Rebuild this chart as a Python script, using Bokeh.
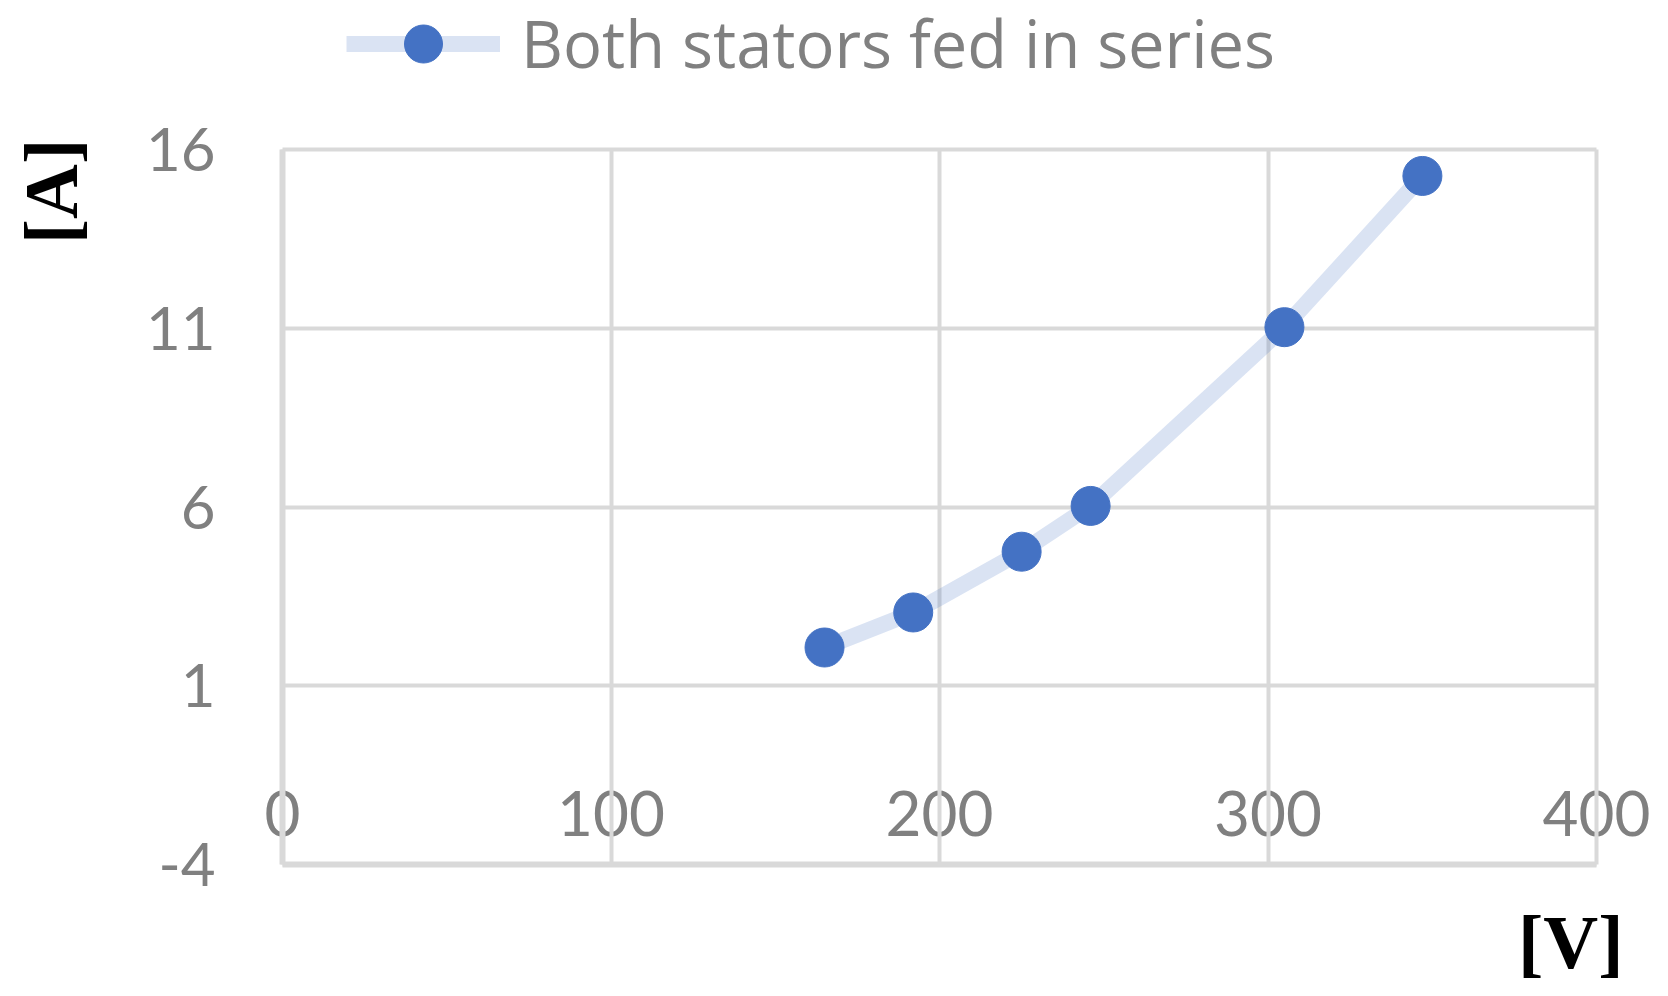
import math
from bokeh.plotting import figure
from bokeh.models import (ColumnDataSource, FixedTicker, Legend, LegendItem,
                          Label, LinearAxis, Range1d, Grid, PrintfTickFormatter)
from bokeh.embed import file_html
from bokeh.resources import INLINE

# ---- data ----
voltage = [165, 192, 225, 246, 305, 347]
current = [2.07, 3.05, 4.75, 6.03, 11.03, 15.26]
series_name = "Both stators fed in series"
x_ticks = [0, 100, 200, 300, 400]
y_ticks = [-4, 1, 6, 11, 16]
x_title = "[V]"
y_title = "[A]"
X_MIN, X_MAX = 0, 400
Y_MIN, Y_MAX = -4, 16

src = ColumnDataSource(data=dict(x=voltage, y=current))

GRID = "#D9D9D9"
TXT = "#808080"
BLUE = "#4472C4"

# ---- layout in pixels ----
W, H = 1650, 990
PLOT_L, PLOT_R, PLOT_T, PLOT_B = 282, 1596, 149, 864
sx = (PLOT_R - PLOT_L) / (X_MAX - X_MIN)
sy = (PLOT_B - PLOT_T) / (Y_MAX - Y_MIN)
x_range = Range1d(X_MIN - PLOT_L / sx, X_MAX + (W - PLOT_R) / sx)
y_range = Range1d(Y_MIN - (H - PLOT_B) / sy, Y_MAX + PLOT_T / sy)

p = figure(width=W, height=H, output_backend="svg", toolbar_location=None,
           x_range=x_range, y_range=y_range,
           min_border_left=0, min_border_right=0, min_border_top=0, min_border_bottom=0,
           x_axis_location=None, y_axis_location=None)
p.grid.visible = False
p.outline_line_color = None
p.background_fill_color = "white"

# grids limited to the plot area
p.add_layout(Grid(dimension=0, ticker=FixedTicker(ticks=x_ticks), bounds=(-1000, 1000),
                  cross_bounds=(Y_MIN, Y_MAX), grid_line_color=GRID, grid_line_width=4))
p.add_layout(Grid(dimension=1, ticker=FixedTicker(ticks=y_ticks), bounds=(-1000, 1000),
                  cross_bounds=(X_MIN, X_MAX), grid_line_color=GRID, grid_line_width=4))

# y axis at x = 0
yax = LinearAxis(ticker=FixedTicker(ticks=y_ticks), formatter=PrintfTickFormatter(format="%d"),
                 fixed_location=X_MIN, bounds=(Y_MIN, Y_MAX))
yax.axis_line_color = GRID
yax.axis_line_width = 6
yax.major_tick_line_color = None
yax.minor_tick_line_color = None
yax.major_label_standoff = 61
yax.major_label_text_font = "Lato"
yax.major_label_text_font_size = "60px"
yax.major_label_text_color = TXT
p.add_layout(yax, "left")

# x axis at y = -4, labels sitting just above the line
xax = LinearAxis(ticker=FixedTicker(ticks=x_ticks), formatter=PrintfTickFormatter(format="%d"),
                 fixed_location=Y_MIN, bounds=(X_MIN, X_MAX))
xax.axis_line_color = GRID
xax.axis_line_width = 6
xax.major_tick_line_color = None
xax.minor_tick_line_color = None
xax.major_label_standoff = -80
xax.major_label_text_font = "Lato"
xax.major_label_text_font_size = "62px"
xax.major_label_text_color = TXT
xax.level = "image"
p.add_layout(xax, "below")

# series
ln = p.line("x", "y", source=src, line_color=BLUE, line_alpha=0.2, line_width=16)
sc = p.scatter("x", "y", source=src, size=39, fill_color=BLUE, line_color=BLUE)

legend = Legend(items=[LegendItem(label=series_name, renderers=[ln, sc])],
                location=(346, H - 43 - 47.5), orientation="horizontal",
                glyph_width=154, glyph_height=95, label_standoff=21,
                padding=0, margin=0, border_line_color=None,
                background_fill_alpha=0,
                label_text_font="Open Sans", label_text_font_size="65px",
                label_text_color=TXT)
p.add_layout(legend)

# axis titles
p.add_layout(Label(x=X_MIN, y=Y_MAX, x_offset=-232, y_offset=-42, angle=math.pi / 2,
                   text=y_title, text_align="center", text_baseline="middle",
                   text_font="Liberation Serif", text_font_style="bold",
                   text_font_size="76px", text_color="black"))
p.add_layout(Label(x=X_MAX, y=Y_MIN, x_offset=27, y_offset=-77,
                   text=x_title, text_align="right", text_baseline="middle",
                   text_font="Liberation Serif", text_font_style="bold",
                   text_font_size="76px", text_color="black"))

open("out.html", "w").write(file_html(p, INLINE))
